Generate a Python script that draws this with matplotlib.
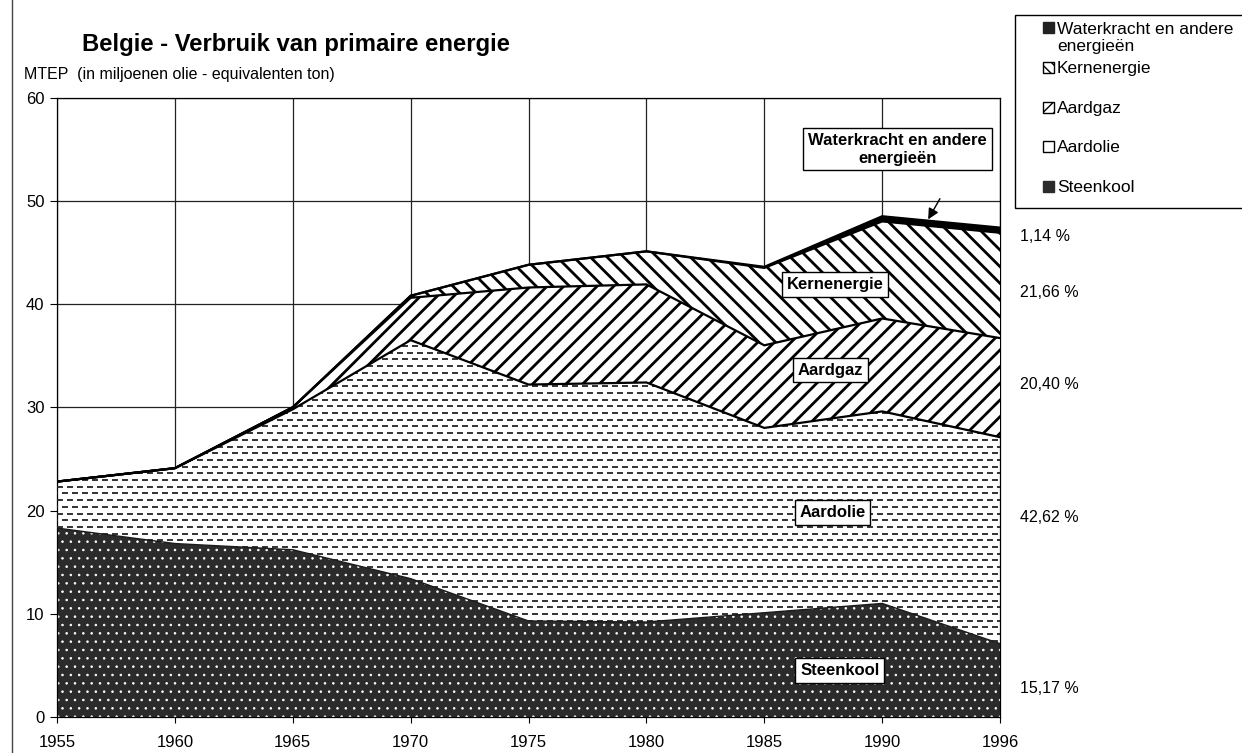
import numpy as np
import matplotlib.pyplot as plt
from matplotlib.collections import LineCollection
from matplotlib.patches import Rectangle

plt.rcParams['font.family'] = ['Liberation Sans', 'DejaVu Sans']
plt.rcParams['lines.scale_dashes'] = False

# verbruik per energiebron (MTEP)
jaren = ['1955', '1960', '1965', '1970', '1975', '1980', '1985', '1990', '1996']
steenkool = [18.3, 16.8, 16.2, 13.4, 9.3, 9.2, 10.1, 11.0, 7.1]
aardolie = [4.5, 7.3, 13.6, 23.1, 22.9, 23.2, 17.9, 18.6, 20.0]
aardgaz = [0.0, 0.0, 0.2, 4.1, 9.4, 9.5, 8.0, 9.0, 9.6]
kernenergie = [0.0, 0.0, 0.0, 0.2, 2.2, 3.2, 7.5, 9.4, 10.2]
waterkracht = [0.0, 0.0, 0.0, 0.0, 0.0, 0.0, 0.1, 0.5, 0.5]

bronnen = ['Steenkool', 'Aardolie', 'Aardgaz', 'Kernenergie', 'Waterkracht en andere\nenergieën']
aandeel_1996 = ['15,17 %', '42,62 %', '20,40 %', '21,66 %', '1,14 %']

x = np.arange(len(jaren))
lagen = np.array([steenkool, aardolie, aardgaz, kernenergie, waterkracht])
top = np.cumsum(lagen, axis=0)
bodem = np.vstack([np.zeros(len(jaren)), top[:-1]])

fig = plt.figure(figsize=(12.42, 7.53), dpi=100)
ax = fig.add_axes([0.0459, 0.0478, 0.7593, 0.8227])

# steenkool: donker met witte stippen
with plt.rc_context({'hatch.linewidth': 0.6}):
    ax.fill_between(x, bodem[0], top[0], facecolor='#2b2b2b', edgecolor='white',
                    hatch='..', linewidth=0, zorder=2)

# aardolie: wit met korte streepjes
olie = ax.fill_between(x, bodem[1], top[1], facecolor='white', linewidth=0, zorder=2)
olie_pad = olie.get_paths()[0]
rijen = np.arange(0.004, 1.0, 6.7 / 619.5)
for i, offset in enumerate([0.0, 3.6]):
    segs = [[(0, y), (1, y)] for y in rijen[i::2]]
    lc = LineCollection(segs, transform=ax.transAxes, colors='#222222',
                        linewidths=1.3, linestyles=[(offset, (4.3, 2.9))], zorder=3)
    lc.set_clip_path(olie_pad, ax.transData)
    ax.add_collection(lc)

with plt.rc_context({'hatch.linewidth': 2.0}):
    ax.fill_between(x, bodem[2], top[2], facecolor='white', edgecolor='black',
                    hatch='//', linewidth=0, zorder=4)
    ax.fill_between(x, bodem[3], top[3], facecolor='white', edgecolor='black',
                    hatch='\\\\', linewidth=0, zorder=4)
ax.fill_between(x, bodem[4], top[4], facecolor='black', linewidth=0, zorder=5)

for i in range(1, 5):
    ax.plot(x, top[i], color='black', lw=1.6, zorder=6, solid_joinstyle='miter')
ax.plot(x, top[0], color='#1a1a1a', lw=1.0, zorder=6)

ax.set_xlim(0, len(jaren) - 1)
ax.set_ylim(0, 60)
ax.set_xticks(x)
ax.set_xticklabels(jaren, fontsize=12)
ax.set_yticks(np.arange(0, 61, 10))
ax.tick_params(axis='y', labelsize=12, length=5, width=0.8, pad=4, direction='out')
ax.tick_params(axis='x', length=4, width=0.8, pad=9, direction='out')
ax.grid(True, color='#222222', lw=0.9)
ax.set_axisbelow(True)
for s in ax.spines.values():
    s.set_linewidth(0.9)

# labels in de vlakken
kader = dict(boxstyle='square,pad=0.28', fc='white', ec='black', lw=1.0)
label_pos = [(6.64, 4.5), (6.58, 19.8), (6.56, 33.6), (6.60, 41.9), (7.13, 55.0)]
for naam, (lx, ly) in zip(bronnen, label_pos):
    ax.text(lx, ly, naam, ha='center', va='center', fontsize=12, fontweight='bold',
            bbox=kader, zorder=8, linespacing=1.25)

ax.annotate('', xy=(7.39, 48.2), xytext=(7.49, 50.2),
            arrowprops=dict(arrowstyle='-|>', color='black', lw=1.0,
                            mutation_scale=16, shrinkA=0, shrinkB=0), zorder=8)

# aandelen 1996 rechts van de grafiek
pct_y = [2.8, 19.3, 32.2, 41.1, 46.5]
for t, py in zip(aandeel_1996, pct_y):
    ax.text(1.021, py, t, transform=ax.get_yaxis_transform(), ha='left', va='center',
            fontsize=11.5, clip_on=False)

fig.text(82 / 1242, 1 - 51 / 753, 'Belgie - Verbruik van primaire energie',
         fontsize=17.2, fontweight='bold', va='baseline')
fig.text(24 / 1242, 1 - 79 / 753, 'MTEP  (in miljoenen olie - equivalenten ton)',
         fontsize=11.5, va='baseline')

# legende
W, H = 1242, 753
fig.patches.append(Rectangle((1015 / W, 1 - 208 / H), 0.3, 193 / H, transform=fig.transFigure,
                             facecolor='white', edgecolor='black', lw=1.0))
leg = [
    ('Waterkracht en andere\nenergieën', 38, dict(facecolor='#222222', edgecolor='#222222')),
    ('Kernenergie', 68, dict(facecolor='white', edgecolor='black', hatch='\\\\\\')),
    ('Aardgaz', 108, dict(facecolor='white', edgecolor='black', hatch='///')),
    ('Aardolie', 147, dict(facecolor='white', edgecolor='black')),
    ('Steenkool', 187, dict(facecolor='#2b2b2b', edgecolor='#2b2b2b')),
]
for naam, py, stijl in leg:
    my = py - 10 if '\n' in naam else py
    fig.patches.append(Rectangle((1043 / W, 1 - (my + 5) / H), 11 / W, 11 / H,
                                 transform=fig.transFigure, lw=1.0, **stijl))
    fig.text(1057 / W, 1 - py / H, naam, fontsize=12.5, va='center', linespacing=1.2)

# rand van de pagina
fig.add_artist(plt.Line2D([12 / W, 12 / W], [0, 1], transform=fig.transFigure,
                          color='#444444', lw=1.0))

fig.savefig('out.png', dpi=100)
